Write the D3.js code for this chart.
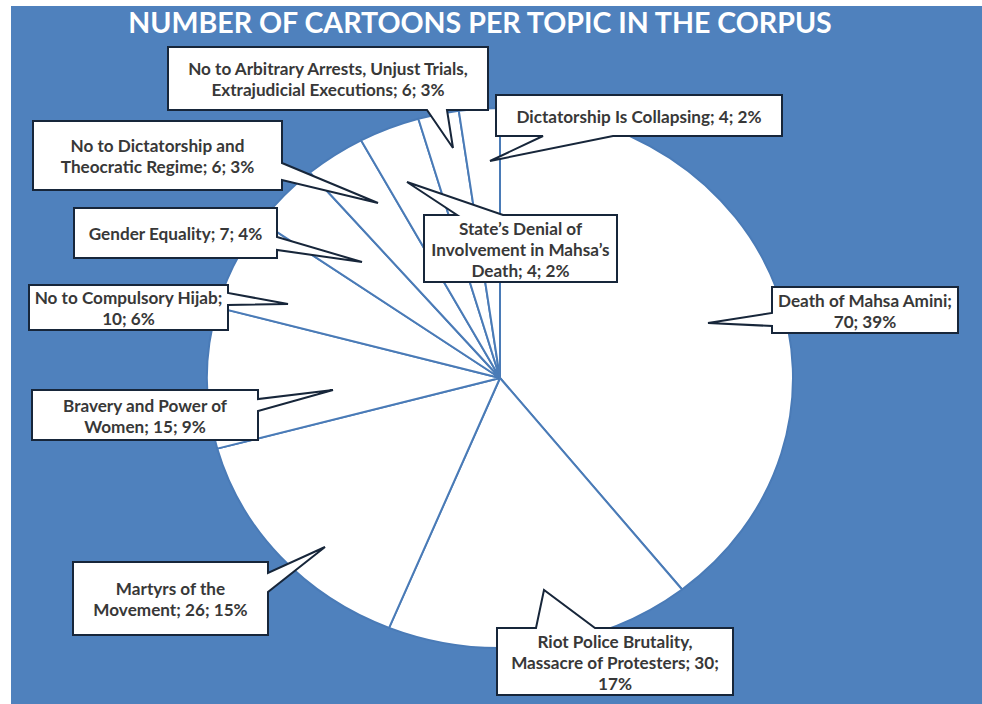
<!DOCTYPE html>
<html>
<head>
<meta charset="utf-8">
<script src="https://cdn.jsdelivr.net/npm/d3@7"></script>
<style>
  html, body { margin: 0; padding: 0; background: #ffffff; }
  svg { display: block; }
</style>
</head>
<body>
<svg id="chart" width="982" height="704"></svg>
<script>
// ---- data ----
const title = "NUMBER OF CARTOONS PER TOPIC IN THE CORPUS";
const categories = [
  "Death of Mahsa Amini",
  "Riot Police Brutality, Massacre of Protesters",
  "Martyrs of the Movement",
  "Bravery and Power of Women",
  "No to Compulsory Hijab",
  "Gender Equality",
  "No to Dictatorship and Theocratic Regime",
  "No to Arbitrary Arrests, Unjust Trials, Extrajudicial Executions",
  "State\u2019s Denial of Involvement in Mahsa\u2019s Death",
  "Dictatorship Is Collapsing"
];
const values = [70, 30, 26, 15, 10, 7, 6, 6, 4, 4];
const percents = [39, 17, 15, 9, 6, 4, 3, 3, 2, 2];

// ---- layout (callout boxes, wedge bases, tip points, words per line) ----
const callouts = [
  {box:[772,287,958,333], edge:"left",   base:[313,326], tip:[708,323], words:[4,2]},
  {box:[497,628,733,695], edge:"top",    base:[536,595], tip:[544,590], words:[3,4,1]},
  {box:[73,562,268,635],  edge:"right",  base:[573,592], tip:[325,547], words:[3,3]},
  {box:[32,390,258,440],  edge:"right",  base:[399,411], tip:[333,390], words:[4,3]},
  {box:[29,285,228,330],  edge:"right",  base:[293,305], tip:[288,304], words:[4,2]},
  {box:[74,208,277,258],  edge:"right",  base:[237,250], tip:[362,262], words:[4]},
  {box:[33,121,282,190],  edge:"right",  base:[163,180], tip:[378,203], words:[4,4]},
  {box:[168,47,488,110],  edge:"bottom", base:[427,447], tip:[453,148], words:[6,4]},
  {box:[424,215,617,282], edge:"top",    base:[457,503], tip:[407,182], words:[3,3,3]},
  {box:[496,95,782,136],  edge:"bottom", base:[543,613], tip:[490,161], words:[5]}
];

const W = 982, H = 704;
const cx = 500, cy = 378, RX = 293, RY = 270;
const bg = "#4f81bd";
const fontFam = "Lato, 'Open Sans', sans-serif";

const svg = d3.select("#chart");
svg.append("rect").attr("x", 0).attr("y", 0).attr("width", W).attr("height", H).attr("fill", "#ffffff");
svg.append("rect").attr("x", 11).attr("y", 6).attr("width", W - 11).attr("height", H - 6).attr("fill", bg);

// title
const t = svg.append("text")
  .attr("x", 480).attr("y", 33)
  .attr("text-anchor", "middle")
  .attr("fill", "#ffffff")
  .attr("font-family", fontFam)
  .attr("font-weight", 700)
  .attr("font-size", 26)
  .text(title);
{
  const len = t.node().getComputedTextLength();
  t.attr("font-size", 26 * 704 / len);
}

// pie (drawn as circle, squashed vertically to match the reference's ellipse)
const pie = d3.pie().sort(null).value(d => d)(values);
const arc = d3.arc().innerRadius(0).outerRadius(RX);
const g = svg.append("g").attr("transform", `translate(${cx},${cy}) scale(1,${RY / RX})`);
g.selectAll("path.slice").data(pie).join("path")
  .attr("class", "slice")
  .attr("d", arc)
  .attr("fill", "#ffffff")
  .attr("stroke", "#4a7bb7")
  .attr("stroke-width", 2)
  .attr("vector-effect", "non-scaling-stroke")
  .attr("stroke-linejoin", "round");

// label font sizing: fit reference line width
const probe = svg.append("text").attr("font-family", fontFam).attr("font-weight", 700)
  .attr("font-size", 15).text("No to Arbitrary Arrests, Unjust Trials,");
const labelSize = 15 * 280 / probe.node().getComputedTextLength();
probe.remove();

function calloutPath(c) {
  const [x0, y0, x1, y1] = c.box;
  const [b0, b1] = c.base;
  const [tx, ty] = c.tip;
  const p = d3.path();
  p.moveTo(x0, y0);
  if (c.edge === "top") { p.lineTo(b0, y0); p.lineTo(tx, ty); p.lineTo(b1, y0); }
  p.lineTo(x1, y0);
  if (c.edge === "right") { p.lineTo(x1, b0); p.lineTo(tx, ty); p.lineTo(x1, b1); }
  p.lineTo(x1, y1);
  if (c.edge === "bottom") { p.lineTo(b1, y1); p.lineTo(tx, ty); p.lineTo(b0, y1); }
  p.lineTo(x0, y1);
  if (c.edge === "left") { p.lineTo(x0, b1); p.lineTo(tx, ty); p.lineTo(x0, b0); }
  p.closePath();
  return p.toString();
}

const labels = svg.append("g");
categories.forEach((cat, i) => {
  const c = callouts[i];
  const full = `${cat}; ${values[i]}; ${percents[i]}%`;
  const words = full.split(" ");
  const lines = [];
  let k = 0;
  c.words.forEach(n => { lines.push(words.slice(k, k + n).join(" ")); k += n; });
  if (k < words.length) lines[lines.length - 1] += " " + words.slice(k).join(" ");

  const lg = labels.append("g");
  lg.append("path")
    .attr("d", calloutPath(c))
    .attr("fill", "#ffffff")
    .attr("stroke", "#17263a")
    .attr("stroke-width", 2)
    .attr("stroke-linejoin", "miter");
  const [x0, y0, x1, y1] = c.box;
  const mx = (x0 + x1) / 2, my = (y0 + y1) / 2 + 1;
  const lh = 21;
  lines.forEach((ln, j) => {
    lg.append("text")
      .attr("x", mx)
      .attr("y", my + (j - (lines.length - 1) / 2) * lh + labelSize * 0.36)
      .attr("text-anchor", "middle")
      .attr("font-family", fontFam)
      .attr("font-weight", 700)
      .attr("font-size", labelSize)
      .attr("fill", "#383838")
      .text(ln);
  });
});
</script>
</body>
</html>
